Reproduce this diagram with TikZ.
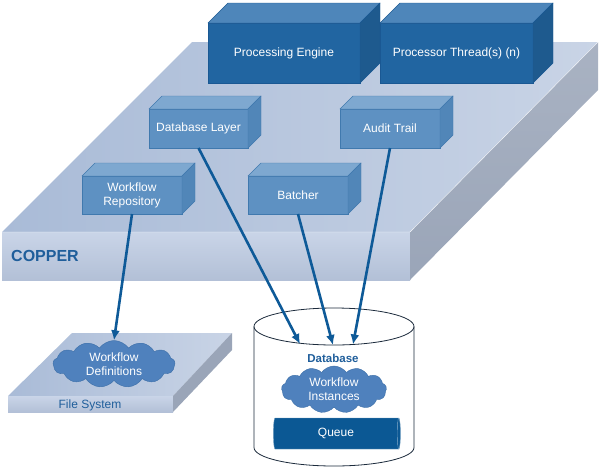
\documentclass[tikz,border=0pt]{standalone}
\usepackage{fontspec}
\setmainfont{Liberation Sans}
\usetikzlibrary{calc,arrows.meta,shapes.geometric,shapes.symbols}

\definecolor{engfront}{HTML}{2165A1}
\definecolor{engtop}{HTML}{4E86BA}
\definecolor{engside}{HTML}{1E5A8E}
\definecolor{engedge}{HTML}{1A5893}
\definecolor{modfront}{HTML}{5E91C2}
\definecolor{modtop}{HTML}{7EA8D0}
\definecolor{modside}{HTML}{5186B8}
\definecolor{modedge}{HTML}{4079AE}
\definecolor{platleft}{HTML}{A9BBD7}
\definecolor{platright}{HTML}{C9D4E6}
\definecolor{platfront}{HTML}{BCCAE2}
\definecolor{platside}{HTML}{9AA5B8}
\definecolor{cloudfill}{HTML}{4F81BD}
\definecolor{cloudedge}{HTML}{3C6FA8}
\definecolor{flowblue}{HTML}{0E5A98}
\definecolor{labelblue}{HTML}{1F5E9B}
\definecolor{queueblue}{HTML}{0B5894}
\definecolor{dbline}{HTML}{1C2B3C}

% top and right faces of a box node: node, depth, top colour, side colour, edge colour
\newcommand{\cubesides}[5]{%
  \filldraw[fill=#3, draw=#5] (#1.north west) -- ++(#2,-#2) -- ($(#1.north east)+(#2,-#2)$) -- (#1.north east) -- cycle;
  \filldraw[fill=#4, draw=#5] (#1.north east) -- ++(#2,-#2) -- ($(#1.south east)+(#2,-#2)$) -- (#1.south east) -- cycle;
}

\begin{document}
\begin{tikzpicture}[x=1pt,y=-1pt,
  every node/.style={font=\fontsize{12}{14}\selectfont},
  enginebox/.style={draw=engedge, fill=engfront, text=white, minimum width=152, minimum height=60, inner sep=0, outer sep=0},
  modbox/.style={draw=modedge, fill=modfront, text=white, minimum width=100, minimum height=38, inner sep=0, outer sep=0, align=center},
  store/.style={shape=cloud, cloud puffs=13, cloud puff arc=110, cloud ignores aspect, fill=cloudfill, draw=cloudedge, text=white, align=center, inner sep=0},
  flow/.style={draw=flowblue, line width=2.6pt, -{Latex[length=10pt,width=9pt]}},
  queuebox/.style={shape=cylinder, aspect=0.3, minimum width=31, minimum height=127, cylinder uses custom fill, cylinder body fill=queueblue, cylinder end fill=queueblue, draw=queueblue!60!white, text=white, inner sep=0}]
  \useasboundingbox (0,0) rectangle (600,467);

  % COPPER platform
  \shade[left color=platleft, right color=platright] (192,42) -- (598,42) -- (410,232) -- (2,232) -- cycle;
  \shade[top color=platfront!80!white, bottom color=platfront!95!black] (2,232) rectangle (410,280);
  \shade[top color=platside!85!white, bottom color=platside] (410,232) -- (598,42) -- (598,90) -- (410,280) -- cycle;
  \draw[white!85!platfront] (2,232) -- (410,232) -- (598,42);
  \node[font=\fontsize{16}{18}\selectfont\bfseries, text=labelblue] (copper) at (45,256) {COPPER};

  % engine boxes
  \node[enginebox] (engine) at (284,53) {Processing Engine};
  \cubesides{engine}{20}{engtop}{engside}{engedge}
  \node[enginebox, minimum width=153] (threads) at (456.5,53) {Processor Thread(s) (n)};
  \cubesides{threads}{20}{engtop}{engside}{engedge}

  % module boxes
  \node[modbox, minimum width=99, minimum height=39] (dblayer) at (198.5,128.5) {Database Layer};
  \cubesides{dblayer}{13}{modtop}{modside}{modedge}
  \node[modbox, minimum height=39] (audit) at (390,128.5) {Audit Trail};
  \cubesides{audit}{13}{modtop}{modside}{modedge}
  \node[modbox] (repo) at (132,195) {Workflow\\Repository};
  \cubesides{repo}{13}{modtop}{modside}{modedge}
  \node[modbox] (batcher) at (298,195) {Batcher};
  \cubesides{batcher}{13}{modtop}{modside}{modedge}

  % file system slab
  \shade[left color=platleft, right color=platright] (72,333) -- (232,333) -- (173,396) -- (8,396) -- cycle;
  \shade[top color=platfront!80!white, bottom color=platfront!95!black] (8,396) rectangle (173,412);
  \fill[platside] (173,396) -- (232,333) -- (232,350) -- (173,412) -- cycle;
  \node[text=labelblue] (fs) at (90,405) {File System};
  \node[store, minimum width=122, minimum height=47] (wfdef) at (114,364) {Workflow\\Definitions};

  % database cylinder
  \filldraw[draw=dbline, fill=white, line width=0.8pt] (254,326.5) -- (254,447.5) arc[start angle=180, end angle=0, x radius=80, y radius=18.5] -- (414,326.5);
  \draw[dbline, line width=0.8pt] (334,326.5) ellipse [x radius=80, y radius=18.5];
  \node[font=\fontsize{11.5}{14}\selectfont\bfseries, text=labelblue] (db) at (333,358) {Database};
  \node[store, minimum width=105, minimum height=47] (wfinst) at (334,389.5) {Workflow\\Instances};
  \node[queuebox] (queue) at (336,433.5) {Queue};
  \coordinate (dbin1) at (300,344);
  \coordinate (dbin2) at (333,345);
  \coordinate (dbin3) at (353,344.5);

  % connectors
  \draw[flow] (repo.south) -- (wfdef.north);
  \draw[flow] (dblayer.south) -- (dbin1);
  \draw[flow] (batcher.south) -- (dbin2);
  \draw[flow] (audit.south) -- (dbin3);
\end{tikzpicture}
\end{document}
